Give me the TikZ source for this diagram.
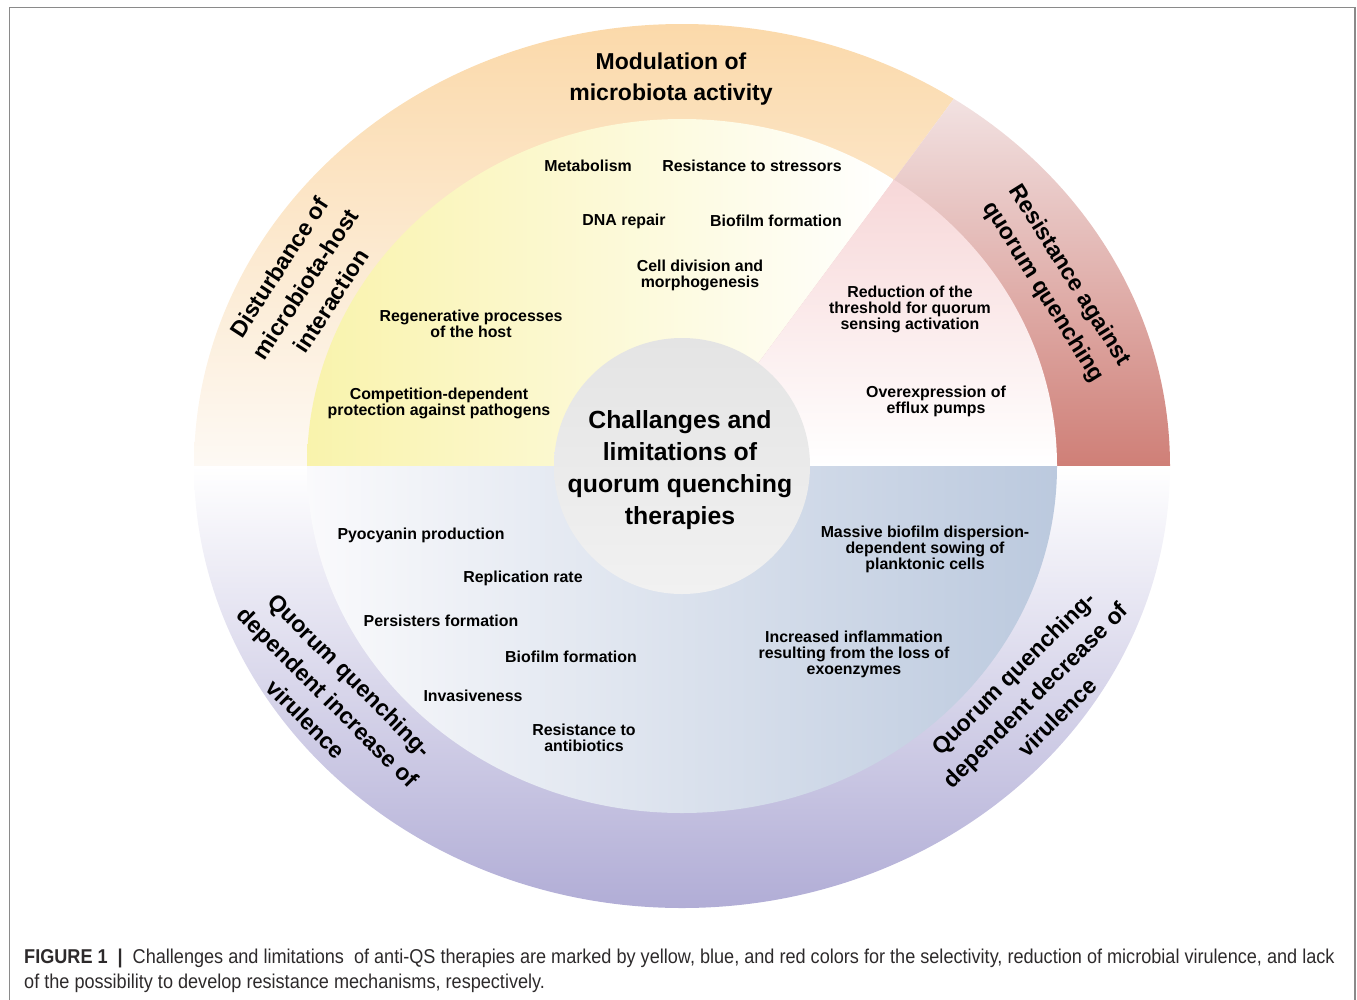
\documentclass[tikz,border=0pt]{standalone}
\usepackage{fontspec}
\setmainfont{Liberation Sans}
\newfontfamily\capfont[FakeStretch=0.905]{Liberation Sans}
\usetikzlibrary{calc}

\definecolor{framegray}{RGB}{138,138,138}
\definecolor{ringorange}{RGB}{251,217,170}
\definecolor{ringpale}{RGB}{253,249,244}
\definecolor{ringrose}{RGB}{242,226,226}
\definecolor{ringred}{RGB}{207,127,119}
\definecolor{ringlilac}{RGB}{177,173,214}
\definecolor{coreyellow}{RGB}{249,243,172}
\definecolor{corepink}{RGB}{247,215,216}
\definecolor{coreblue}{RGB}{187,201,222}
\definecolor{corewhite}{RGB}{250,250,252}
\definecolor{hubgray}{RGB}{228,228,228}
\definecolor{hubpale}{RGB}{241,241,241}
\definecolor{capgray}{RGB}{45,42,43}

\begin{document}
\begin{tikzpicture}[x=1pt,y=1pt,
    effect/.style={font=\bfseries\fontsize{15.9}{16}\selectfont,align=center,inner sep=0pt},
    sector/.style={font=\bfseries\fontsize{23}{31}\selectfont,align=center,inner sep=0pt},
    capline/.style={anchor=base west,inner sep=0pt,text=capgray,font=\capfont\fontsize{20}{25}\selectfont}]
  \useasboundingbox (0,0) rectangle (1357,-999);
  \draw[framegray,line width=1.3pt] (9.5,-7.5) rectangle (1355,-1012);
  \coordinate (c) at (682,-466);

  % outer ring, upper left
  \begin{scope}
    \clip (c) -- (1027,0) -- (150,0) -- (150,-466) -- cycle;
    \clip (c) ellipse [x radius=488pt, y radius=442pt];
    \shade[top color=ringorange, bottom color=ringpale] (150,-24) rectangle (1200,-466);
  \end{scope}
  % outer ring, upper right
  \begin{scope}
    \clip (c) -- (1027,0) -- (1200,0) -- (1200,-466) -- cycle;
    \clip (c) ellipse [x radius=488pt, y radius=442pt];
    \shade[top color=ringrose, bottom color=ringred] (150,-97) rectangle (1200,-466);
  \end{scope}
  % outer ring, lower half
  \begin{scope}
    \clip (150,-466) rectangle (1200,-950);
    \clip (c) ellipse [x radius=488pt, y radius=442pt];
    \shade[top color=white, bottom color=ringlilac] (150,-466) rectangle (1200,-908);
  \end{scope}

  % inner part
  \begin{scope}
    \clip (c) -- (1027,0) -- (150,0) -- (150,-466) -- cycle;
    \clip (c) ellipse [x radius=375pt, y radius=347pt];
    \shade[left color=coreyellow, right color=white] (307,-100) rectangle (893,-466);
  \end{scope}
  \begin{scope}
    \clip (c) -- (1027,0) -- (1200,0) -- (1200,-466) -- cycle;
    \clip (c) ellipse [x radius=375pt, y radius=347pt];
    \shade[top color=corepink, bottom color=white] (600,-178) rectangle (1100,-466);
  \end{scope}
  \begin{scope}
    \clip (150,-466) rectangle (1200,-950);
    \clip (c) ellipse [x radius=375pt, y radius=347pt];
    \shade[left color=corewhite, right color=coreblue] (307,-466) rectangle (1058,-814);
  \end{scope}

  % hub
  \shade[top color=hubgray, bottom color=hubpale] (c) circle [radius=128pt];
  \node[font=\bfseries\fontsize{24.8}{32}\selectfont,align=center,inner sep=0pt] (hub) at (680,-470)
    {Challanges and\\limitations of\\quorum quenching\\therapies};

  % sectors of the ring
  \node[sector] (modulation) at (671,-79) {Modulation of\\microbiota activity};
  \node[sector,rotate=57] (disturbance) at (305,-284) {Disturbance of\\microbiota-host\\interaction};
  \node[sector,rotate=-58] (resistance) at (1056,-284) {Resistance against\\quorum quenching};
  \node[sector,rotate=-45] (increase) at (328,-697) {Quorum quenching-\\dependent increase of\\virulence};
  \node[sector,rotate=45] (decrease) at (1035,-695) {Quorum quenching-\\dependent decrease of\\virulence};

  % microbiota activity
  \node[effect] (metab) at (588,-166) {Metabolism};
  \node[effect] (stress) at (752,-166) {Resistance to stressors};
  \node[effect] (dna) at (624,-221) {DNA repair};
  \node[effect] (biofilm1) at (776,-221) {Biofilm formation};
  \node[effect] (division) at (700,-275) {Cell division and\\morphogenesis};
  \node[effect] (regen) at (471,-324) {Regenerative processes\\of the host};
  \node[effect] (compet) at (439,-403) {Competition-dependent\\protection against pathogens};

  % resistance
  \node[effect] (thresh) at (910,-309) {Reduction of the\\threshold for quorum\\sensing activation};
  \node[effect] (efflux) at (936,-401) {Overexpression of\\efflux pumps};

  % virulence up
  \node[effect] (pyo) at (421,-535) {Pyocyanin production};
  \node[effect] (repl) at (523,-578) {Replication rate};
  \node[effect] (persist) at (441,-621) {Persisters formation};
  \node[effect] (biofilm2) at (571,-657) {Biofilm formation};
  \node[effect] (invas) at (473,-696) {Invasiveness};
  \node[effect] (antib) at (584,-738) {Resistance to\\antibiotics};

  % virulence down
  \node[effect] (dispers) at (925,-549) {Massive biofilm dispersion-\\dependent sowing of\\planktonic cells};
  \node[effect] (inflam) at (854,-654) {Increased inflammation\\resulting from the loss of\\exoenzymes};

  % caption
  \node[capline] (cap1) at (24,-963)
    {\textbf{FIGURE 1}\enspace\textbf{|}\enspace Challenges and limitations\ \ of anti-QS therapies are marked by yellow, blue, and red colors for the selectivity, reduction of microbial virulence, and lack};
  \node[capline] (cap2) at (24,-988)
    {of the possibility to develop resistance mechanisms, respectively.};
\end{tikzpicture}
\end{document}
